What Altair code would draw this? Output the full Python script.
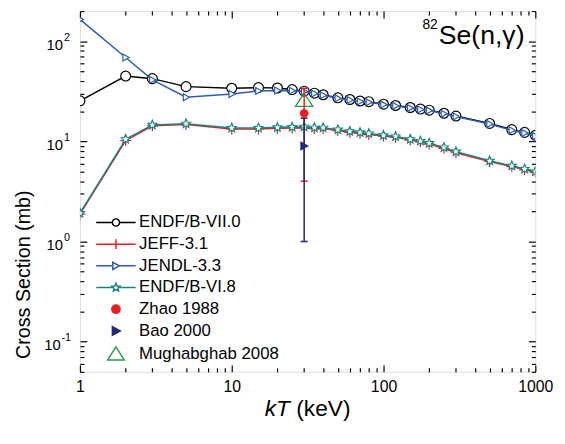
import math
import altair as alt
import pandas as pd

# ---------------- data ----------------
KT = [1, 2, 3, 5, 10, 15, 20, 25, 30, 35, 40, 50, 60, 70, 80, 100, 120, 150, 175, 200, 250, 300, 500, 700, 850, 1000]
ENDF_B_VII0 = [25.4, 44.9, 42.3, 35.2, 33.9, 34.4, 34.1, 32.9, 31.7, 30.3, 29.2, 27.2, 26.2, 25.3, 24.9, 23.5, 22.8, 21.8, 21.0, 20.5, 19.1, 17.9, 15.1, 13.1, 12.3, 11.5]
JENDL_33 = [165, 68.7, 41.1, 27.6, 29.7, 31.9, 32.2, 32.0, 31.4, 30.0, 28.9, 26.9, 25.9, 25.0, 24.6, 23.3, 22.6, 21.6, 20.8, 20.3, 18.9, 17.7, 14.9, 12.9, 12.1, 11.3]
ENDF_B_VI8 = [1.92, 10.5, 14.6, 15.0, 13.6, 13.6, 13.8, 13.9, 14.0, 13.7, 13.7, 13.1, 12.6, 12.3, 12.0, 11.5, 11.2, 10.5, 10.1, 9.6, 8.7, 7.9, 6.4, 5.7, 5.3, 5.0]
JEFF_31 = [1.88, 10.2, 14.3, 14.7, 13.3, 13.3, 13.5, 13.6, 13.7, 13.4, 13.4, 12.8, 12.3, 12.0, 11.7, 11.3, 11.0, 10.3, 9.9, 9.4, 8.5, 7.7, 6.3, 5.6, 5.2, 4.9]

EXP_NAMES = ["Zhao 1988", "Bao 2000", "Mughabghab 2008"]
EXP_KT = [30, 30, 30]
EXP_VALUE = [19.0, 9.0, 26.0]
ERR_NAMES = ["Zhao 1988", "Bao 2000"]
ERR_LOW = [4.0, 1.0]
ERR_HIGH = [34.0, 17.0]

SERIES = ["ENDF/B-VII.0", "JEFF-3.1", "JENDL-3.3", "ENDF/B-VI.8", "Zhao 1988", "Bao 2000", "Mughabghab 2008"]

X_LABELS = [1, 10, 100, 1000]
X_TICKS = [1, 2, 3, 4, 5, 6, 7, 8, 9, 10, 20, 30, 40, 50, 60, 70, 80, 90,
           100, 200, 300, 400, 500, 600, 700, 800, 900, 1000]
Y_LABELS = [1, 10, 100]
Y_LABEL_LOW = [0.1]
Y_TICKS = [0.05, 0.06, 0.07, 0.08, 0.09, 0.1, 0.2, 0.3, 0.4, 0.5, 0.6, 0.7, 0.8, 0.9,
           1, 2, 3, 4, 5, 6, 7, 8, 9, 10, 20, 30, 40, 50, 60, 70, 80, 90, 100, 200]
MAJOR = [0.1, 1, 10, 100, 1000]

ANNOT_SUP = ["82"]
ANNOT_MAIN = ["Se(n,γ)"]

# ---------------- style ----------------
FONT = "Liberation Sans"
BLACK = "#000000"
RED = "#ec1c24"
BLUE = "#2b5cb8"
TEAL = "#16877f"
NAVY = "#1e2a78"
GREEN = "#2e9b47"

W, H = 462, 366


def star_path(R, r):
    pts = []
    for k in range(10):
        ang = math.radians(-90 + 36 * k)
        rad = R if k % 2 == 0 else r
        pts.append((rad * math.cos(ang), rad * math.sin(ang)))
    return "M" + "L".join(f"{x:.3f},{y:.3f}" for x, y in pts) + "Z"


STAR = star_path(1.0, 0.45)
TRI_R = "M-0.8,-1L1,0L-0.8,1Z"
PLUS = "M-1,0L1,0M0,-1L0,1"
CAP = "M-1,0L1,0"
TRI_UP_OPEN = "M0,-0.75L1,0.75L-1,0.75Z"

LEG_SHAPES = [
    "M-5,0L-0.92,0M0.92,0L5,0M0.92,0A0.92,0.92,0,1,1,-0.92,0A0.92,0.92,0,1,1,0.92,0Z",
    "M-5,0L5,0M0,-1.25L0,1.25",
    "M-5,0L-0.8,0M0.9,0L5,0M-0.8,-0.9L0.9,0L-0.8,0.9Z",
    "M-5,0L-0.75,0M0.75,0L5,0" + star_path(1.1, 0.5),
    "M1.05,0A1.05,1.05,0,1,1,-1.05,0A1.05,1.05,0,1,1,1.05,0Z",
    "M-0.9,-1.1L1.1,0L-0.9,1.1Z",
    "M0,-1.7L2.1,1.6L-2.1,1.6Z",
]
LEG_FILLS = ["white", "transparent", "white", "white", RED, NAVY, "transparent"]
LEG_STROKES = [BLACK, RED, BLUE, TEAL, RED, NAVY, GREEN]

xs = alt.Scale(type="log", domain=[1, 1000], nice=False)
ys = alt.Scale(type="log", domain=[0.05, 200], nice=False)


def X(axis=None):
    return alt.X("kT:Q", scale=xs, axis=axis)


def Y(axis=None):
    return alt.Y("sigma:Q", scale=ys, axis=axis)


def sdf(vals):
    return pd.DataFrame({"kT": KT, "sigma": vals})


def line_layer(vals, color, width=1.5):
    return alt.Chart(sdf(vals)).mark_line(color=color, strokeWidth=width, clip=True).encode(x=X(), y=Y())


def point_layer(df, shape, size, stroke, fill=None, sw=1.2):
    kw = dict(shape=shape, size=size, stroke=stroke, strokeWidth=sw, opacity=1, clip=True)
    if fill is None:
        kw["filled"] = False
        kw["fill"] = "transparent"
    else:
        kw["filled"] = True
        kw["fill"] = fill
    return alt.Chart(df).mark_point(**kw).encode(x=X(), y=Y())


TICK_SIZE = {"condition": {"test": "indexof(" + str(MAJOR) + ", datum.value) >= 0", "value": 7}, "value": 4}

BASE = dict(grid=False, domain=False)


def tick_axis(orient, offset, values):
    return alt.Axis(orient=orient, offset=offset, values=values, labels=False, ticks=True,
                    tickSize=TICK_SIZE, tickWidth=1.2, tickColor=BLACK, title=None, **BASE)


def label_axis(orient, values, expr, padding, size, align, offset=0, **kw):
    return alt.Axis(orient=orient, values=values, labelExpr=expr, ticks=False, tickSize=0,
                    labelPadding=padding, labelFontSize=size, labelAlign=align, labelFont=FONT,
                    labelColor=BLACK, labelOffset=offset, labelFlush=False, labelOverlap=False,
                    **BASE, **kw)


axis_df = pd.DataFrame({"kT": [1], "sigma": [1]})


def axis_layer(xaxis=None, yaxis=None):
    return alt.Chart(axis_df).mark_point(opacity=0, clip=True).encode(x=X(xaxis), y=Y(yaxis))


y_axes = [
    label_axis("left", Y_LABELS, "'10'", 17.7, 15, "right", 3,
               title="Cross Section (mb)", titleFont=FONT, titleFontSize=20, titleFontWeight="normal",
               titleColor=BLACK, titleX=-51.5, titleY=267, titleAngle=270, titleAlign="center",
               titleBaseline="alphabetic"),
    label_axis("left", Y_LABEL_LOW, "'10'", 20, 15, "right", 3, title=None),
    label_axis("left", Y_LABELS,
               "datum.value >= 99 ? '2' : (datum.value >= 9 ? '1' : '0')", 16.7, 11, "left", -4, title=None),
    label_axis("left", Y_LABEL_LOW, "'-1'", 19.3, 11, "left", -4, title=None),
    tick_axis("right", -W, Y_TICKS),
    tick_axis("left", -W, Y_TICKS),
]
x_axes = [
    label_axis("bottom", X_LABELS, "format(datum.value, 'd')", 6.5, 16, "center", 0,
               title="kT", titleFont=FONT, titleFontSize=23, titleFontStyle="italic",
               titleFontWeight="normal", titleColor=BLACK, titleX=187, titleY=44,
               titleAlign="left", titleBaseline="alphabetic"),
    alt.Axis(orient="bottom", values=[1], labels=False, ticks=False, title="(keV)", titleFont=FONT,
             titleFontSize=23, titleFontWeight="normal", titleColor=BLACK, titleX=219, titleY=44,
             titleAlign="left", titleBaseline="alphabetic", **BASE),
    tick_axis("top", -H, X_TICKS),
    tick_axis("bottom", -H, X_TICKS),
]

axis_layers = [axis_layer(yaxis=a) for a in y_axes] + [axis_layer(xaxis=a) for a in x_axes]

# ---------------- data layers ----------------
layers = [
    line_layer(JEFF_31, RED),
    point_layer(sdf(JEFF_31), PLUS, 121, RED, None, 1.2),
    line_layer(ENDF_B_VI8, TEAL),
    point_layer(sdf(ENDF_B_VI8), STAR, 90, TEAL, "white", 1.2),
    line_layer(ENDF_B_VII0, BLACK),
    point_layer(sdf(ENDF_B_VII0), "circle", 100, BLACK, "white", 1.2),
    line_layer(JENDL_33, BLUE),
    point_layer(sdf(JENDL_33), TRI_R, 49, BLUE, "white", 1.2),
]

exp_df = pd.DataFrame({"name": EXP_NAMES, "kT": EXP_KT, "sigma": EXP_VALUE})
err_df = pd.DataFrame({"name": ERR_NAMES, "kT": EXP_KT[:2], "sigma": ERR_LOW, "hi": ERR_HIGH})

layers.append(point_layer(exp_df[exp_df.name == "Mughabghab 2008"], TRI_UP_OPEN, 313, GREEN, None, 1.3))
for nm, col in [("Zhao 1988", RED), ("Bao 2000", NAVY)]:
    sub = err_df[err_df.name == nm]
    layers.append(alt.Chart(sub).mark_rule(color=col, strokeWidth=1.5).encode(
        x=X(), y=Y(), y2="hi:Q"))
    caps = pd.DataFrame({"kT": list(sub.kT) * 2, "sigma": list(sub.sigma) + list(sub.hi)})
    layers.append(point_layer(caps, CAP, 49, col, None, 1.5))
layers.append(point_layer(exp_df[exp_df.name == "Zhao 1988"], "circle", 70, RED, RED, 0.5))
layers.append(point_layer(exp_df[exp_df.name == "Bao 2000"], TRI_R, 81, NAVY, NAVY, 0.5))

# annotation "82Se(n,γ)"
layers.append(alt.Chart(pd.DataFrame({"t": ANNOT_SUP})).mark_text(
    font=FONT, fontSize=14, align="right", baseline="alphabetic", color=BLACK).encode(
    text="t:N", x=alt.value(363), y=alt.value(17.7)))
layers.append(alt.Chart(pd.DataFrame({"t": ANNOT_MAIN})).mark_text(
    font=FONT, fontSize=27, align="left", baseline="alphabetic", color=BLACK).encode(
    text="t:N", x=alt.value(364), y=alt.value(33.7)))

# legend layer (points outside the x domain, clipped away)
leg = alt.Legend(title=None, orient="none", legendX=12, legendY=206, symbolSize=64,
                 symbolStrokeWidth=1.5, symbolOffset=16, labelOffset=15, labelFontSize=17,
                 labelFont=FONT, labelColor=BLACK, labelLimit=300, rowPadding=4, padding=0,
                 symbolFillColor="white", symbolStrokeColor=BLACK, symbolOpacity=1)
legend_df = pd.DataFrame({"series": SERIES, "kT": [0.1] * len(SERIES), "sigma": [1] * len(SERIES)})
legend_layer = alt.Chart(legend_df).mark_point(size=64, strokeWidth=1.5, opacity=1, filled=True, clip=True).encode(
    x=X(), y=Y(),
    shape=alt.Shape("series:N", scale=alt.Scale(domain=SERIES, range=LEG_SHAPES), legend=leg),
    fill=alt.Fill("series:N", scale=alt.Scale(domain=SERIES, range=LEG_FILLS), legend=leg),
    stroke=alt.Stroke("series:N", scale=alt.Scale(domain=SERIES, range=LEG_STROKES), legend=leg),
)

chart = alt.layer(*layers, legend_layer, *axis_layers).resolve_axis(
    x="independent", y="independent"
).properties(
    width=W, height=H,
    autosize=alt.AutoSizeParams(type="none"),
    padding={"left": 73, "top": 0, "right": 22, "bottom": 62},
).configure_view(stroke=BLACK, strokeWidth=1.5).configure(font=FONT)

chart.save("out.html", embed_options={"renderer": "svg", "actions": False})
